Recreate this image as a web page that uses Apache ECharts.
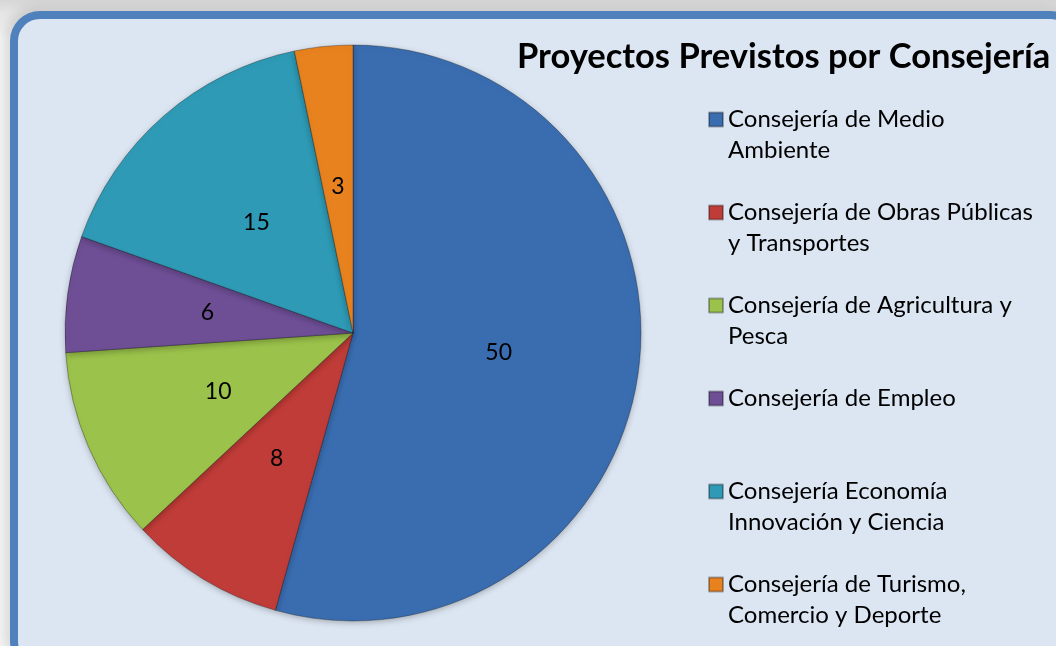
<!DOCTYPE html>
<html>
<head>
<meta charset="utf-8">
<script src="https://cdn.jsdelivr.net/npm/echarts@6/dist/echarts.min.js"></script>
<style>
  html, body { margin: 0; padding: 0; }
  body { width: 1056px; height: 646px; overflow: hidden; position: relative;
         background: linear-gradient(to bottom, #d6d6d6 0px, #e4e4e4 12px, #f4f4f4 40px); }
  #frame { position: absolute; left: 10px; top: 11px; width: 1070px; height: 660px;
           box-sizing: border-box; border: 8px solid #4f81bd; border-radius: 30px;
           background: #dce6f2; box-shadow: -4px -4px 12px rgba(0,0,0,0.12); }
  #main { position: absolute; left: 0; top: 0; width: 1056px; height: 646px; }
</style>
</head>
<body>
<div id="frame"></div>
<div id="main"></div>
<script>
var categories = [
  'Consejería de Medio\nAmbiente',
  'Consejería de Obras Públicas\ny Transportes',
  'Consejería de Agricultura y\nPesca',
  'Consejería de Empleo',
  'Consejería Economía\nInnovación y Ciencia',
  'Consejería de Turismo,\nComercio y Deporte'
];
var values = [50, 8, 10, 6, 15, 3];
var colors = ['#3a6db0', '#c03c38', '#9bc24b', '#6e4f96', '#2e9ab5', '#e8821e'];

var chart = echarts.init(document.getElementById('main'), null, { renderer: 'canvas' });

// every legend entry is 3 lines tall so the first text line sits on the icon
function legendText(name) {
  return name.indexOf('\n') >= 0 ? ' \n' + name : ' \n' + name + '\n ';
}

var option = {
  title: {
    text: 'Proyectos Previstos por Consejería',
    left: 517,
    top: 39,
    padding: 0,
    textStyle: { fontFamily: 'Lato', fontWeight: 'bold', fontSize: 34.5, color: '#000' }
  },
  legend: {
    orient: 'vertical',
    left: 708,
    top: 73,
    padding: 0,
    itemGap: 0,
    itemWidth: 14,
    itemHeight: 14,
    icon: 'rect',
    selectedMode: false,
    data: categories,
    formatter: legendText,
    textStyle: { fontFamily: 'Lato', fontSize: 24, lineHeight: 31, color: '#000' }
  },
  series: [{
    type: 'pie',
    center: [353, 333],
    radius: 288,
    startAngle: 90,
    clockwise: true,
    animation: false,
    label: {
      show: true,
      position: 'inner',
      formatter: '{c}',
      fontFamily: 'Lato',
      fontSize: 23,
      color: '#000'
    },
    labelLine: { show: false },
    itemStyle: {
      borderColor: 'rgba(0,0,0,0.3)',
      borderWidth: 1,
      shadowBlur: 6,
      shadowColor: 'rgba(0,0,0,0.25)',
      shadowOffsetY: 2
    },
    data: categories.map(function (name, i) {
      return { name: name, value: values[i], itemStyle: { color: colors[i] } };
    })
  }]
};

chart.setOption(option);
</script>
</body>
</html>
